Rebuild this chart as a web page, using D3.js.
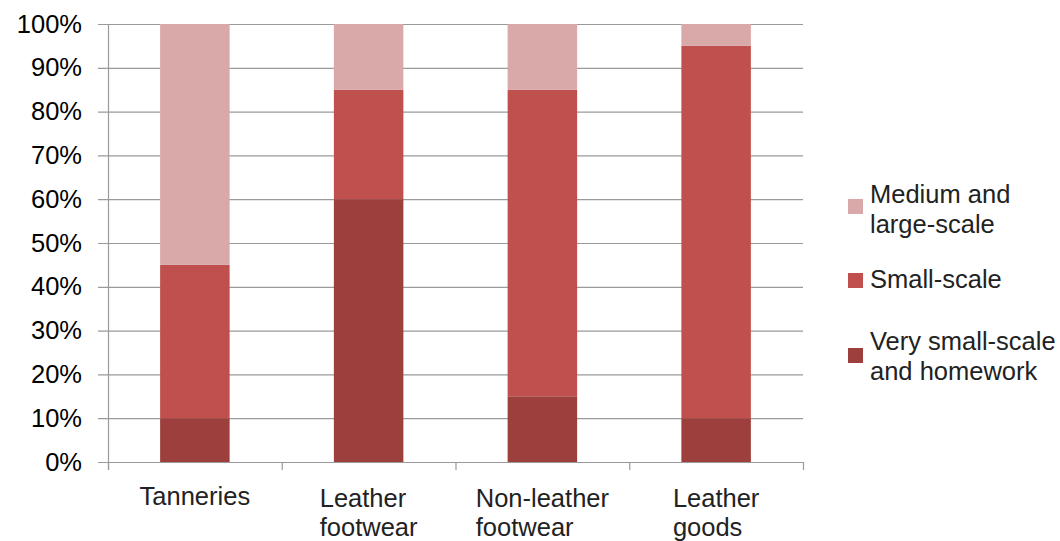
<!DOCTYPE html>
<html>
<head>
<meta charset="utf-8">
<script src="https://cdn.jsdelivr.net/npm/d3@7"></script>
<style>
  body { margin: 0; background: #fff; }
  svg text { font-family: "Liberation Sans", Arial, sans-serif; }
</style>
</head>
<body>
<div class="chart"></div>
<script>
// categories and stacked shares (percent)
var categories = ["Tanneries", "Leather footwear", "Non-leather footwear", "Leather goods"];
var catLines = [["Tanneries"], ["Leather", "footwear"], ["Non-leather", "footwear"], ["Leather", "goods"]];
var verySmall = [10, 60, 15, 10];
var small = [35, 25, 70, 85];
var mediumLarge = [55, 15, 15, 5];
var seriesNames = ["Very small-scale and homework", "Small-scale", "Medium and large-scale"];
var yTicks = [0, 10, 20, 30, 40, 50, 60, 70, 80, 90, 100];

var colors = ["#9d3f3d", "#c0504d", "#d9a9a9"];

var W = 1060, H = 541;
var m = { left: 108, right: 803, top: 24, bottom: 462 };
var fs = 25.5;

var rows = categories.map((c, i) => ({
  cat: c, s0: verySmall[i], s1: small[i], s2: mediumLarge[i]
}));
var stack = d3.stack().keys(["s0", "s1", "s2"])(rows);

var svg = d3.select(".chart").append("svg")
  .attr("width", W).attr("height", H);

var x = d3.scaleBand().domain(categories).range([m.left, m.right]).paddingInner(0).paddingOuter(0);
var y = d3.scaleLinear().domain([0, 100]).range([m.bottom, m.top]);

// gridlines
svg.append("g").selectAll("line").data(yTicks).enter().append("line")
  .attr("x1", m.left - 10).attr("x2", m.right)
  .attr("y1", d => y(d) + 0.5).attr("y2", d => y(d) + 0.5)
  .attr("stroke", "#9a9a9a").attr("stroke-width", 1.2);

// y labels
svg.append("g").selectAll("text").data(yTicks).enter().append("text")
  .attr("x", 82).attr("y", d => y(d) + 8.5)
  .attr("text-anchor", "end").attr("font-size", fs).attr("fill", "#000")
  .text(d => d + "%");

// bars
var bw = x.bandwidth() * 0.4;
svg.append("g").selectAll("g").data(stack).enter().append("g")
  .attr("fill", (d, i) => colors[i])
  .selectAll("rect").data(d => d).enter().append("rect")
  .attr("x", d => x(d.data.cat) + (x.bandwidth() - bw) / 2)
  .attr("width", bw)
  .attr("y", d => y(d[1]))
  .attr("height", d => y(d[0]) - y(d[1]));

// axes lines
svg.append("line").attr("x1", m.left + 0.5).attr("x2", m.left + 0.5)
  .attr("y1", m.top).attr("y2", m.bottom + 8)
  .attr("stroke", "#9a9a9a").attr("stroke-width", 1.2);
var catEdges = categories.map(c => x(c)).concat([m.right]);
svg.append("g").selectAll("line").data(catEdges).enter().append("line")
  .attr("x1", d => d + 0.5).attr("x2", d => d + 0.5)
  .attr("y1", m.bottom).attr("y2", m.bottom + 8)
  .attr("stroke", "#9a9a9a").attr("stroke-width", 1.2);

// x labels: multi-line blocks are left aligned, block centred under the band
var xl = svg.append("g").selectAll("text").data(categories).enter().append("text")
  .attr("font-size", fs).attr("fill", "#222");
xl.each(function(d, i) {
  var t = d3.select(this);
  var lines = catLines[i];
  var cx = x(d) + x.bandwidth() / 2;
  lines.forEach((ln, j) => {
    t.append("tspan")
      .attr("y", (lines.length > 1 ? 507 : 505) + j * 29)
      .text(ln);
  });
  var wMax = d3.max(t.selectAll("tspan").nodes(), n => n.getComputedTextLength());
  t.selectAll("tspan").attr("x", cx - wMax / 2);
});

// legend (top to bottom: medium/large, small, very small)
var legend = [
  { c: colors[2], lines: ["Medium and", "large-scale"], sy: 199, ty: 203 },
  { c: colors[1], lines: ["Small-scale"], sy: 273, ty: 288 },
  { c: colors[0], lines: ["Very small-scale", "and homework"], sy: 348, ty: 350 }
];
var lg = svg.append("g").selectAll("g").data(legend).enter().append("g");
lg.append("rect").attr("x", 848).attr("y", d => d.sy).attr("width", 15).attr("height", 15)
  .attr("fill", d => d.c);
lg.append("text").attr("font-size", fs).attr("fill", "#222")
  .each(function(d) {
    var t = d3.select(this);
    d.lines.forEach((ln, j) => {
      t.append("tspan").attr("x", 870).attr("y", d.ty + j * 30).text(ln);
    });
  });
</script>
</body>
</html>
